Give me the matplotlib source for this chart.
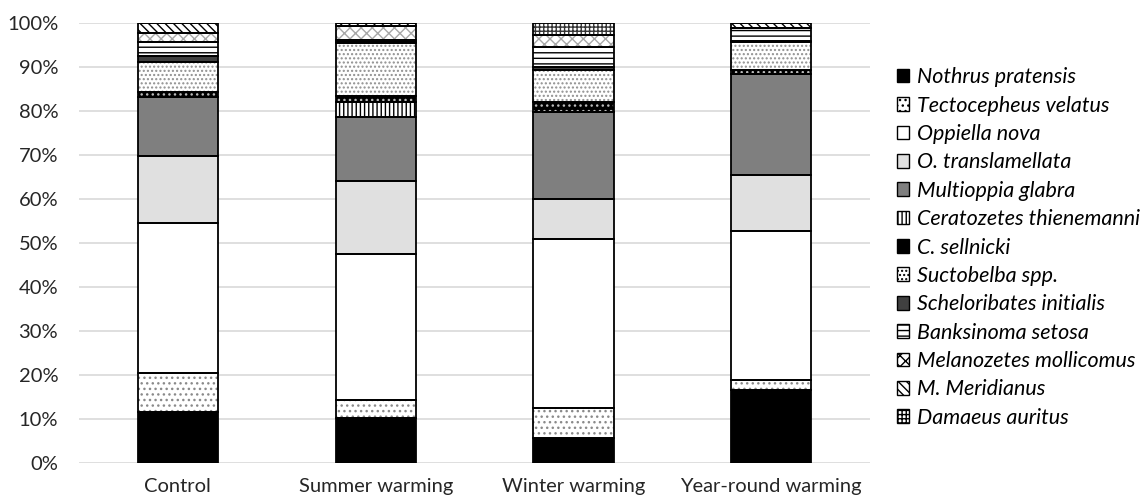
import matplotlib
matplotlib.use("Agg")
import matplotlib.pyplot as plt
import matplotlib.patches as mpatches
import numpy as np

plt.rcParams['font.family'] = ['Lato', 'DejaVu Sans']
plt.rcParams['hatch.linewidth'] = 1.0

groups = ["Control", "Summer warming", "Winter warming", "Year-round warming"]
species = ["Nothrus pratensis", "Tectocepheus velatus", "Oppiella nova", "O. translamellata",
           "Multioppia glabra", "Ceratozetes thienemanni", "C. sellnicki", "Suctobelba spp.",
           "Scheloribates initialis", "Banksinoma setosa", "Melanozetes mollicomus",
           "M. Meridianus", "Damaeus auritus"]

# percent share per species (rows) for each treatment (columns)
control = [11.5, 9.0, 34.0, 15.3, 13.4, 0.0, 1.1, 6.8, 1.4, 3.2, 2.0, 2.3, 0.0]
summer = [10.2, 4.1, 33.2, 16.6, 14.5, 3.4, 1.4, 12.1, 0.3, 0.3, 3.2, 0.7, 0.0]
winter = [5.7, 6.8, 38.4, 9.1, 19.8, 0.0, 2.2, 7.3, 0.7, 4.5, 2.8, 0.0, 2.7]
yearround = [16.6, 2.3, 33.8, 12.8, 22.9, 0.0, 0.9, 6.4, 0.2, 2.9, 0.0, 1.2, 0.0]

# face colour, hatch, hatch colour for each species
styles = [
    ("black", None, "black"),
    ("white", "...", "#8a8a8a"),
    ("white", None, "black"),
    ("#e0e0e0", None, "black"),
    ("#7f7f7f", None, "black"),
    ("white", "||||", "black"),
    ("black", "...", "#bbbbbb"),
    ("white", "....", "#909090"),
    ("#404040", None, "black"),
    ("white", "---", "black"),
    ("white", "xxx", "#a8a8a8"),
    ("white", "\\\\\\\\", "black"),
    ("white", "++++", "#333333"),
]

data = np.array([control, summer, winter, yearround]).T

fig = plt.figure(figsize=(11.45, 5.01), dpi=100)
ax = fig.add_axes([0.069, 0.076, 0.691, 0.878])

x = np.arange(len(groups))
width = 0.405
bottom = np.zeros(len(groups))
for i, vals in enumerate(data):
    face, hatch, hcol = styles[i]
    ax.bar(x, vals, width, bottom=bottom, color=face, edgecolor=hcol,
           hatch=hatch, linewidth=0, zorder=2)
    ax.bar(x, vals, width, bottom=bottom, fill=False, edgecolor="black",
           linewidth=1.3, zorder=3)
    bottom += vals

ax.set_xlim(-0.5, len(groups) - 0.5)
ax.set_ylim(0, 100)
ax.set_yticks(np.arange(0, 101, 10))
ax.set_yticklabels([f"{v}%" for v in range(0, 101, 10)])
ax.set_xticks(x)
ax.set_xticklabels(groups)
ax.tick_params(axis='both', length=0, labelsize=14.5, colors="#262626")
ax.tick_params(axis='y', pad=15)
ax.tick_params(axis='x', pad=11)
ax.grid(axis='y', color="#d9d9d9", linewidth=1.2, zorder=0)
ax.set_axisbelow(True)
for s in ax.spines.values():
    s.set_visible(False)

handles = []
for i, name in enumerate(species):
    face, hatch, hcol = styles[i]
    handles.append(mpatches.Patch(facecolor=face, hatch=hatch, edgecolor="black",
                                  linewidth=1.0, label=name))
leg = fig.legend(handles=handles, loc="upper left", bbox_to_anchor=(0.783, 0.866),
                 frameon=False, handlelength=0.6, handleheight=0.6,
                 handletextpad=0.33, labelspacing=0.39, borderaxespad=0,
                 borderpad=0, prop={'style': 'italic', 'size': 15.5})

fig.savefig("out.png", dpi=100)
